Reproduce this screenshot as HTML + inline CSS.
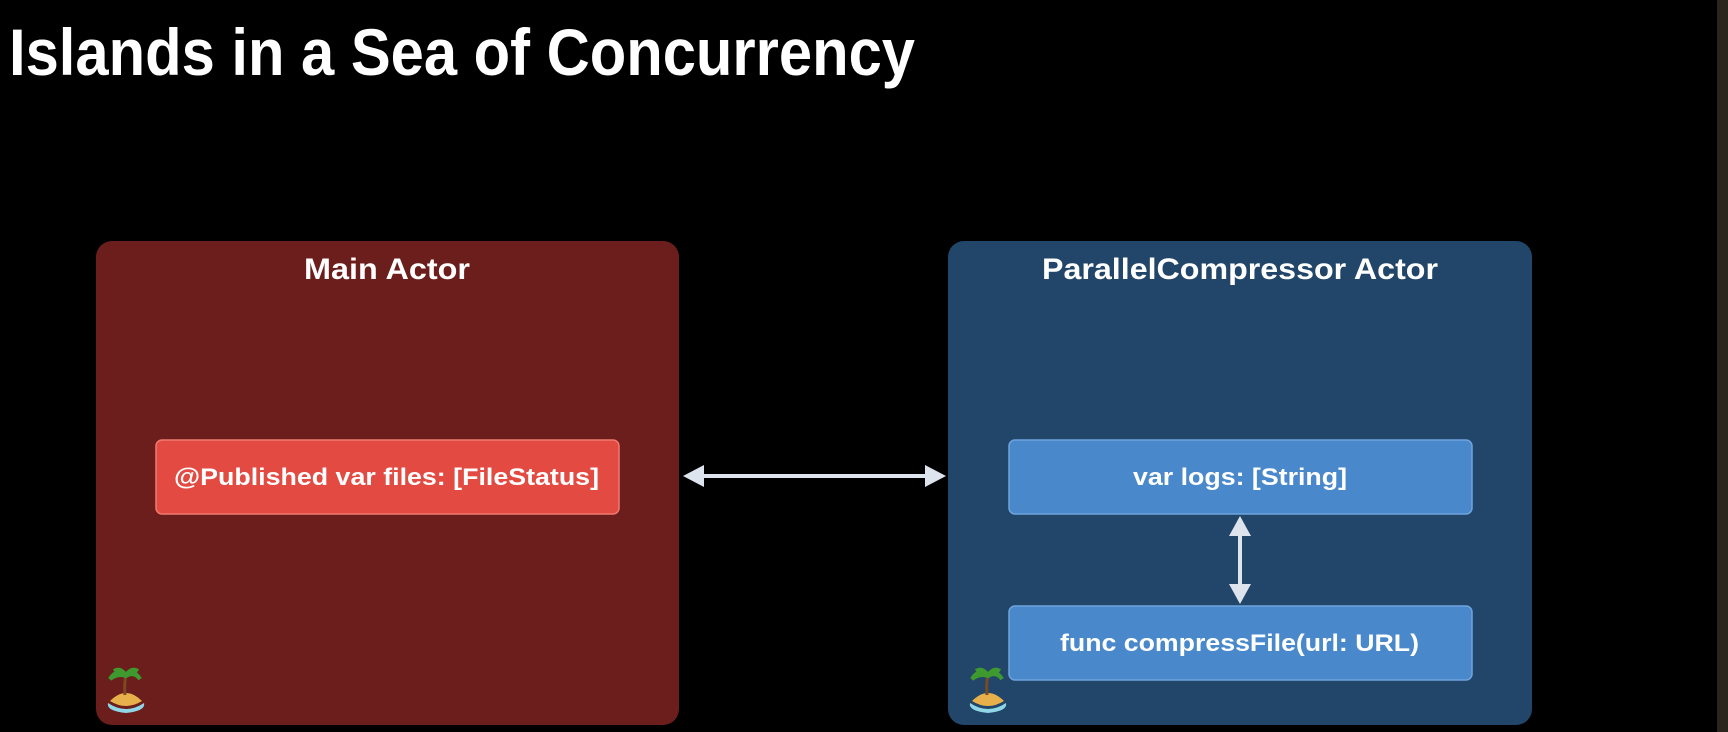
<!DOCTYPE html>
<html><head><meta charset="utf-8"><style>
html,body{margin:0;padding:0;background:#000;width:1728px;height:732px;overflow:hidden}
</style></head><body>
<svg width="1728" height="732" viewBox="0 0 1728 732" xmlns="http://www.w3.org/2000/svg" font-family="Liberation Sans, sans-serif">
<defs>
<g id="island">
<path d="M4 34 Q20 18 36 34 Q20 44 4 34Z" fill="#e8b04a"/>
<path d="M2 36 Q20 48 38 36 Q40 44 20 46 Q0 44 2 36Z" fill="#8fd6e6"/>
<path d="M19 28 Q18 16 20 8" stroke="#7a4a22" stroke-width="3" fill="none"/>
<path d="M20 8 Q10 2 4 12 Q12 6 20 9 Q28 4 34 12 Q28 2 20 8Z M20 8 Q14 0 8 4 M20 8 Q26 0 32 4" fill="#3e9a2e" stroke="#3e9a2e" stroke-width="4"/>
</g>
</defs>
<rect x="1717" y="0" width="11" height="732" fill="#2b251d"/>
<text x="9" y="75" font-size="66" font-weight="bold" fill="#fff" textLength="906" lengthAdjust="spacingAndGlyphs">Islands in a Sea of Concurrency</text>

<rect x="96" y="241" width="583" height="484" rx="16" fill="#6b1e1b"/>
<text x="304" y="279" font-size="30" font-weight="bold" fill="#fff" textLength="166" lengthAdjust="spacingAndGlyphs">Main Actor</text>
<rect x="156" y="440" width="463" height="74" rx="6" fill="#e24a42" stroke="#f07a70" stroke-width="1.5"/>
<text x="174" y="485" font-size="24" font-weight="bold" fill="#fff" textLength="425" lengthAdjust="spacingAndGlyphs">@Published var files: [FileStatus]</text>
<use href="#island" x="106" y="667"/>

<rect x="948" y="241" width="584" height="484" rx="16" fill="#224669"/>
<text x="1042" y="279" font-size="30" font-weight="bold" fill="#fff" textLength="396" lengthAdjust="spacingAndGlyphs">ParallelCompressor Actor</text>
<rect x="1009" y="440" width="463" height="74" rx="6" fill="#4a88cc" stroke="#6fa3dc" stroke-width="1.5"/>
<text x="1133" y="485" font-size="24" font-weight="bold" fill="#fff" textLength="214" lengthAdjust="spacingAndGlyphs">var logs: [String]</text>
<rect x="1009" y="606" width="463" height="74" rx="6" fill="#4a88cc" stroke="#6fa3dc" stroke-width="1.5"/>
<text x="1060" y="651" font-size="24" font-weight="bold" fill="#fff" textLength="359" lengthAdjust="spacingAndGlyphs">func compressFile(url: URL)</text>
<use href="#island" x="968" y="667"/>

<g fill="#dde4ee" stroke="#dde4ee">
<line x1="700" y1="476" x2="930" y2="476" stroke-width="4"/>
<polygon points="683,476 704,465 704,487" stroke="none"/>
<polygon points="946,476 925,465 925,487" stroke="none"/>
<line x1="1240" y1="530" x2="1240" y2="590" stroke-width="4"/>
<polygon points="1240,516 1229,536 1251,536" stroke="none"/>
<polygon points="1240,604 1229,584 1251,584" stroke="none"/>
</g>
</svg>
</body></html>
